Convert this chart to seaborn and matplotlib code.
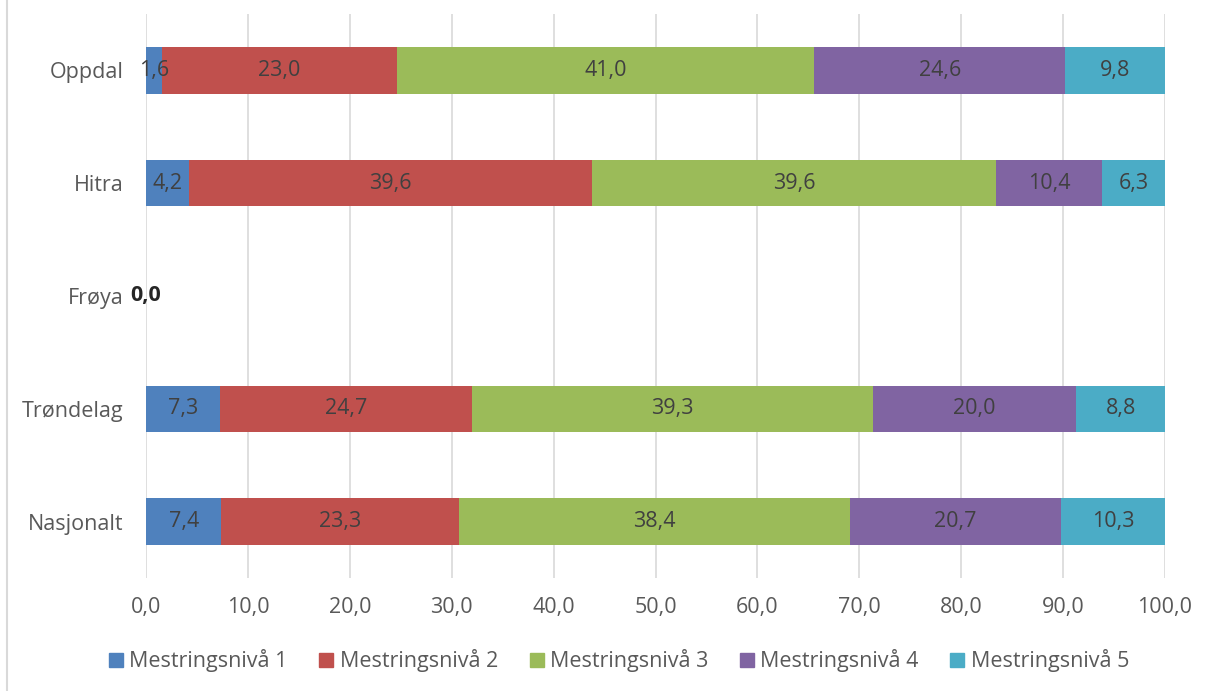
import matplotlib
matplotlib.use("Agg")
import matplotlib.pyplot as plt
from matplotlib.lines import Line2D
import numpy as np
import pandas as pd
import seaborn as sns

categories = ["Oppdal", "Hitra", "Frøya", "Trøndelag", "Nasjonalt"]
levels = ["Mestringsnivå 1", "Mestringsnivå 2", "Mestringsnivå 3",
          "Mestringsnivå 4", "Mestringsnivå 5"]
niva1 = [1.6, 4.2, 0.0, 7.3, 7.4]
niva2 = [23.0, 39.6, 0.0, 24.7, 23.3]
niva3 = [41.0, 39.6, 0.0, 39.3, 38.4]
niva4 = [24.6, 10.4, 0.0, 20.0, 20.7]
niva5 = [9.8, 6.3, 0.0, 8.8, 10.3]
colors = ["#4F81BD", "#C0504D", "#9BBB59", "#8064A2", "#4BACC6"]
xticks = np.arange(0, 101, 10)

df = pd.DataFrame({"kommune": categories,
                   levels[0]: niva1, levels[1]: niva2, levels[2]: niva3,
                   levels[3]: niva4, levels[4]: niva5})

sns.set_theme(style="white")
plt.rcParams["font.family"] = ["Open Sans", "DejaVu Sans"]
txt = "#595959"
fs = 15.5

fig = plt.figure(figsize=(12.13, 6.91), dpi=100)
ax = fig.add_axes([146 / 1213, 1 - 578 / 691, (1165 - 146) / 1213, (578 - 14) / 691])

left = np.zeros(len(categories))
for k, (lev, col) in enumerate(zip(levels, colors)):
    vals = df[lev].values
    sns.barplot(x=left + vals, y=df["kommune"], color=col, orient="h",
                width=0.41, ax=ax, saturation=1, zorder=3 - 0.01 * k,
                edgecolor="none")
    for i, v in enumerate(vals):
        if v > 0:
            ax.text(left[i] + v / 2, i, f"{v:.1f}".replace(".", ","),
                    ha="center", va="center", fontsize=fs, color="#404040", zorder=10)
    left = left + vals

# Frøya has no data; label shown at zero
ax.text(0, categories.index("Frøya"), "0,0", ha="center", va="center",
        fontsize=fs, fontweight="bold", color="#262626", zorder=10)

ax.set_xlim(0, 100)
ax.set_ylim(4.5, -0.5)
ax.set_xticks(xticks)
ax.set_xticklabels([f"{t:.1f}".replace(".", ",") for t in xticks])
ax.tick_params(axis="x", colors=txt, labelsize=fs, length=0, pad=14)
ax.tick_params(axis="y", colors=txt, labelsize=fs, length=0, pad=16)
ax.set_xlabel("")
ax.set_ylabel("")
ax.grid(axis="x", color="#D9D9D9", linewidth=1.2, zorder=0)
ax.set_axisbelow(True)
for s in ax.spines.values():
    s.set_visible(False)

handles = [plt.Rectangle((0, 0), 1, 1, color=c) for c in colors]
fig.legend(handles, levels, loc="center", bbox_to_anchor=(619 / 1213, 1 - 661 / 691),
           ncol=5, frameon=False, fontsize=fs, labelcolor=txt,
           handlelength=0.65, handleheight=0.65, handletextpad=0.3, columnspacing=1.47)

fig.add_artist(Line2D([7 / 1213, 7 / 1213], [0, 1], color="#D9D9D9", linewidth=1.5))

fig.savefig("out.png", dpi=100)
